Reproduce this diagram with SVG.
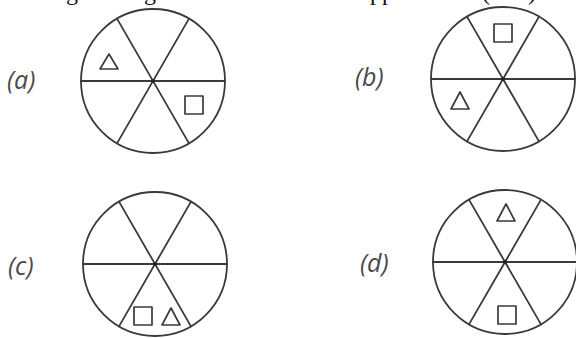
<svg xmlns="http://www.w3.org/2000/svg" width="576" height="338" viewBox="0 0 576 338">
<defs>
<style>
.ln{fill:none;stroke:#3a3a3a;stroke-width:1.8;stroke-linecap:round;stroke-linejoin:round}
.sh{fill:none;stroke:#3a3a3a;stroke-width:1.7;stroke-linejoin:round}
.lbl{font-family:"Open Sans","Liberation Sans",sans-serif;font-style:italic;font-size:25px;fill:#4a4a4a}
.top{font-family:"Liberation Serif",serif;font-size:24px;fill:#111}
</style>
<g id="wheel">
<circle class="ln" cx="0" cy="0" r="72"/>
<line class="ln" x1="-72" y1="0" x2="72" y2="0"/>
<line class="ln" x1="-36" y1="-62.4" x2="36" y2="62.4"/>
<line class="ln" x1="36" y1="-62.4" x2="-36" y2="62.4"/>
<circle cx="0" cy="0" r="2" fill="#222"/>
</g>
</defs>
<rect width="576" height="338" fill="#fff"/>
<g id="header-fragment">
<text class="top" y="0"><tspan x="66">g</tspan><tspan x="144">g</tspan><tspan x="370">pp</tspan><tspan x="482">(</tspan><tspan x="528">)</tspan></text>
</g>
<g id="option-a">
<text class="lbl" x="7" y="89">(a)</text>
<use href="#wheel" x="153" y="81"/>
<polygon class="sh" points="109,54 100,69 118,69"/>
<rect class="sh" x="185" y="96" width="18" height="18"/>
</g>
<g id="option-b">
<text class="lbl" x="355" y="86">(b)</text>
<use href="#wheel" x="503" y="79"/>
<rect class="sh" x="494" y="24" width="18" height="18"/>
<polygon class="sh" points="460,92 451,109 469,109"/>
</g>
<g id="option-c">
<text class="lbl" x="8" y="275">(c)</text>
<use href="#wheel" x="155" y="264"/>
<rect class="sh" x="134" y="307" width="18" height="18"/>
<polygon class="sh" points="171,308 162,325 180,325"/>
</g>
<g id="option-d">
<text class="lbl" x="360" y="272">(d)</text>
<use href="#wheel" x="505" y="262"/>
<polygon class="sh" points="506,204 497,221 515,221"/>
<rect class="sh" x="498" y="306" width="18" height="18"/>
</g>
</svg>
